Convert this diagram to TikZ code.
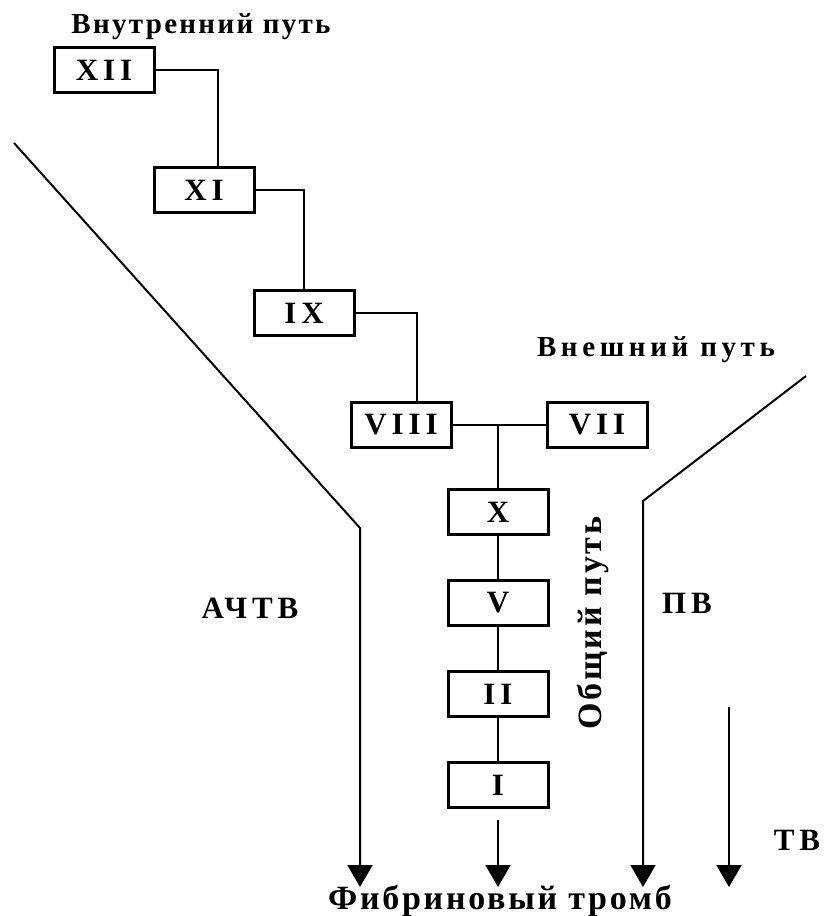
\documentclass[tikz,border=0pt]{standalone}
\usepackage{fontspec}
\setmainfont{Liberation Serif}
\newfontfamily\spfont[LetterSpace=8]{Liberation Serif}
\newfontfamily\wdfont[LetterSpace=16]{Liberation Serif}
\usetikzlibrary{arrows.meta, positioning}

\begin{document}
\begin{tikzpicture}[
    x=1pt, y=-1pt,
    font=\spfont\bfseries\fontsize{29}{34}\selectfont,
    fk/.style={draw, fill=white, line width=3pt, minimum width=100pt, minimum height=45pt, inner sep=0pt,
               font=\wdfont\bfseries\fontsize{31}{34}\selectfont},
    ln/.style={line width=1.5pt},
    ar/.style={line width=2pt, -{Triangle[width=25pt, length=22pt]}},
    lbl/.style={inner sep=0pt},
    big/.style={lbl, font=\spfont\bfseries\fontsize{34}{40}\selectfont},
    abr/.style={lbl, font=\wdfont\bfseries\fontsize{31}{36}\selectfont}
]
\useasboundingbox (0,0) rectangle (824,916);

% внутренний путь
\node[lbl] (tin) at (201,27) {Внутренний путь};
\node[fk] (XII) at (104,70) {XII};
\node[fk] (XI) at (204,190) {XI};
\node[fk] (IX) at (304,313) {IX};
\node[fk] (VIII) at (401,425) {VIII};

% внешний путь
\node[lbl, font=\wdfont\bfseries\fontsize{29}{34}\selectfont] (tex) at (656,350) {Внешний путь};
\node[fk] (VII) at (597,425) {VII};

% общий путь
\node[fk] (X) at (498,512) {X};
\node[fk, below=43pt of X] (V) {V};
\node[fk, below=43pt of V] (II) {II};
\node[fk, below=43pt of II] (I) {I};
\node[big, rotate=90] (tob) at (593,623) {Общий путь};

\draw[ln] (XII.east) -| ([xshift=14pt]XI.north);
\draw[ln] (XI.east) -| (IX.north);
\draw[ln] (IX.east) -| ([xshift=16pt]VIII.north);
\draw[ln] (VIII) -- (VII);
\draw[ln] (X.north |- VIII.east) -- (X.north);
\draw[ln] (X) -- (V);
\draw[ln] (V) -- (II);
\draw[ln] (II) -- (I);

% тесты
\coordinate (a0) at (14,143);
\coordinate (a1) at (360,528);
\coordinate (a2) at (360,887);
\coordinate (p0) at (806,376);
\coordinate (p1) at (643,501);
\coordinate (p2) at (643,887);
\coordinate (t0) at (729,707);
\coordinate (t2) at (729,887);
\coordinate (f2) at (498,887);

\draw[ar] (a0) -- (a1) -- (a2);
\draw[ar] (p0) -- (p1) -- (p2);
\draw[ar] (t0) -- (t2);
\draw[ar] ([yshift=-11pt]I.south) -- (f2);

\node[abr] (achtv) at (250,608) {АЧТВ};
\node[abr] (pv) at (687,603) {ПВ};
\node[abr] (tv) at (797,840) {ТВ};
\node[big] (fib) at (500,901) {Фибриновый тромб};
\end{tikzpicture}
\end{document}
